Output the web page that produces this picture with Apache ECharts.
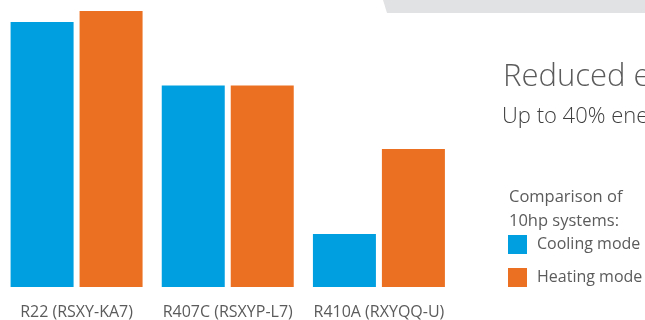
<!DOCTYPE html>
<html>
<head>
<meta charset="utf-8">
<script src="https://cdn.jsdelivr.net/npm/echarts@6/dist/echarts.min.js"></script>
<style>
  html, body { margin: 0; padding: 0; background: #ffffff; }
  #chart { width: 645px; height: 320px; }
</style>
</head>
<body>
<div id="chart"></div>
<script>
// Refrigerant systems compared (relative energy use index, R22 heating = 100)
const categories = ['R22 (RSXY-KA7)', 'R407C (RSXYP-L7)', 'R410A (RXYQQ-U)'];
const coolingMode = [96, 73, 19.2];
const heatingMode = [100, 73, 50];

const seriesNames = ['Cooling mode', 'Heating mode'];
const headline = 'Reduced energy consumption';
const subline = 'Up to 40% energy savings';
const legendCaption = ['Comparison of', '10hp systems:'];

const textColor = '#5b5b5b';
const fontFamily = '"Open Sans", "Noto Sans", sans-serif';

const chart = echarts.init(document.getElementById('chart'), null, { renderer: 'canvas' });

chart.setOption({
  animation: false,
  backgroundColor: '#ffffff',
  color: ['#009fe0', '#ec7021'],
  grid: { left: 1, right: 190.5, top: 0, bottom: 33, containLabel: false },
  xAxis: {
    type: 'category',
    data: categories,
    axisLine: { show: false },
    axisTick: { show: false },
    axisLabel: {
      interval: 0,
      hideOverlap: false,
      color: textColor,
      fontFamily: fontFamily,
      fontSize: 16,
      margin: 17
    }
  },
  yAxis: {
    type: 'value',
    min: 0,
    max: 104,
    show: false,
    splitLine: { show: false }
  },
  legend: {
    orient: 'vertical',
    left: 508,
    top: 235,
    padding: 0,
    itemWidth: 19,
    itemHeight: 19,
    itemGap: 14,
    icon: 'rect',
    textStyle: { color: textColor, fontFamily: fontFamily, fontSize: 16, padding: [0, 0, 0, 5] },
    data: seriesNames
  },
  series: [
    { name: seriesNames[0], type: 'bar', data: coolingMode, barWidth: 63, barGap: '9.5%' },
    { name: seriesNames[1], type: 'bar', data: heatingMode, barWidth: 63, barGap: '9.5%' }
  ],
  graphic: [
    {
      type: 'polygon',
      shape: { points: [[383, 0], [387, 13], [645, 13], [645, 0]] },
      style: { fill: '#e1e2e4' },
      silent: true
    },
    {
      type: 'text',
      left: 503,
      top: 62,
      style: { text: headline, fill: textColor, font: '300 31px ' + fontFamily }
    },
    {
      type: 'text',
      left: 502,
      top: 106,
      style: { text: subline, fill: '#3f3f3f', font: '300 22px ' + fontFamily }
    },
    {
      type: 'text',
      left: 509,
      top: 185,
      style: { text: legendCaption.join('\n'), fill: textColor, font: '16.5px ' + fontFamily, lineHeight: 24 }
    }
  ]
});
</script>
</body>
</html>
